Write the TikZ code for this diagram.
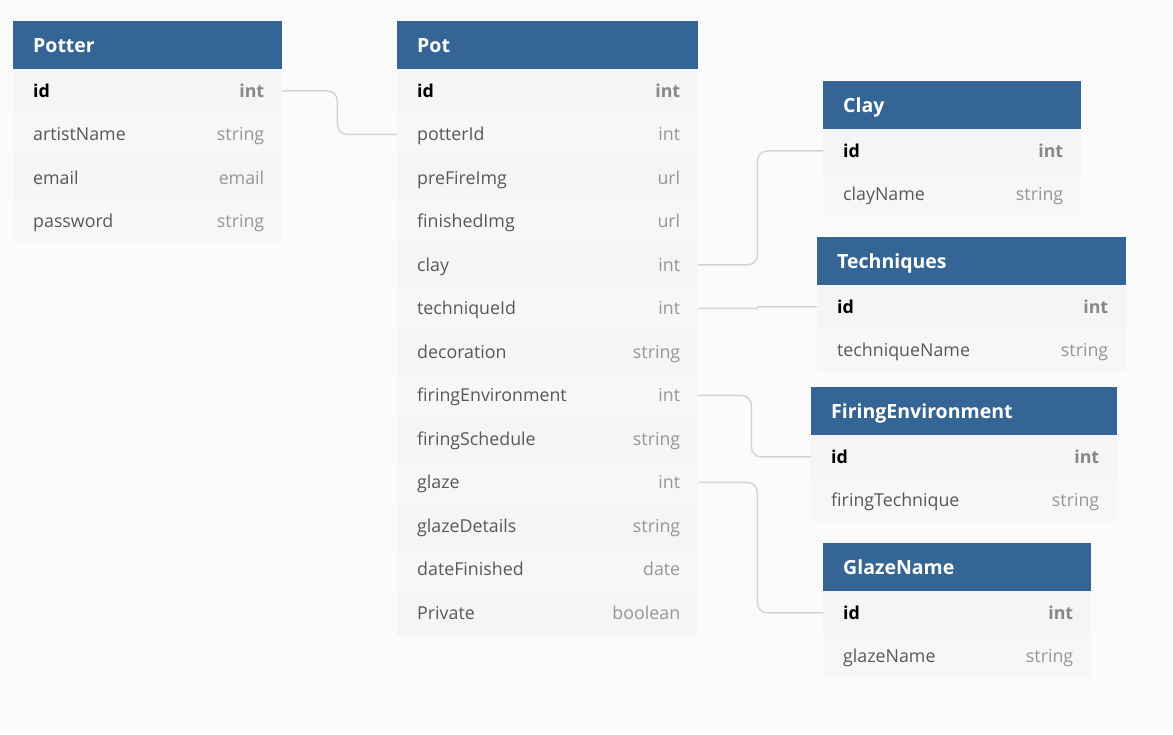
\documentclass[tikz,border=0pt]{standalone}
\usepackage{fontspec}
\setmainfont{Open Sans}
\definecolor{bg}{RGB}{251,251,251}
\definecolor{hdr}{RGB}{53,101,148}
\definecolor{rowa}{RGB}{245,245,245}
\definecolor{rowb}{RGB}{247,247,247}
\definecolor{fname}{RGB}{88,88,88}
\definecolor{ftype}{RGB}{150,150,150}
\definecolor{idtype}{RGB}{135,135,135}
\definecolor{conn}{RGB}{212,212,212}
\tikzset{
  hdrbox/.style={fill=hdr, draw=none, inner sep=0, anchor=north west, minimum height=48pt},
  rowbox/.style={draw=none, inner sep=0, anchor=north west, minimum height=43.5pt},
  titletext/.style={anchor=base west, inner sep=0, text=white, font=\fontsize{19.5}{22}\selectfont\bfseries},
  fieldname/.style={anchor=base west, inner sep=0, text=fname, font=\fontsize{17.8}{20}\selectfont},
  fieldtype/.style={anchor=base east, inner sep=0, text=ftype, font=\fontsize{17.8}{20}\selectfont},
  idname/.style={anchor=base west, inner sep=0, text=black, font=\fontsize{17.8}{20}\selectfont\bfseries},
  idtypetext/.style={anchor=base east, inner sep=0, text=idtype, font=\fontsize{17.8}{20}\selectfont\bfseries},
  connector/.style={draw=conn, line width=1.5pt, rounded corners=10pt},
}
% #1 name, #2 x, #3 y, #4 width, #5 title, #6 rows after id (name/type)
\newcommand\ertable[6]{%
  \node[hdrbox, minimum width=#4pt] (#1h) at (#2,#3) {};
  \node[titletext] (#1t) at ([xshift=20pt, yshift=-6.8pt]#1h.west) {#5};
  \node[rowbox, fill=rowa, minimum width=#4pt] (#11) at (#2,{#3+48}) {};
  \node[idname] (#11n) at ([xshift=20pt, yshift=-6.3pt]#11.west) {id};
  \node[idtypetext] (#11t) at ([xshift=-18pt, yshift=-6.3pt]#11.east) {int};
  \foreach \fn/\ft [count=\i from 2] in {#6} {
    \pgfmathtruncatemacro\rowpar{mod(\i,2)}
    \ifnum\rowpar=0 \def\rc{rowb}\else\def\rc{rowa}\fi
    \node[rowbox, fill=\rc, minimum width=#4pt] (#1\i) at (#2,{#3+48+(\i-1)*43.5}) {};
    \node[fieldname] (#1\i n) at ([xshift=20pt, yshift=-6.3pt]#1\i.west) {\fn};
    \node[fieldtype] (#1\i t) at ([xshift=-18pt, yshift=-6.3pt]#1\i.east) {\ft};
  }%
}
\begin{document}
\begin{tikzpicture}[x=1pt, y=-1pt]
  \fill[bg] (0,0) rectangle (1173,734);
  \useasboundingbox (0,0) rectangle (1173,734);
  \ertable{potter}{13}{21}{269}{Potter}{artistName/string, email/email, password/string}
  \ertable{pot}{397}{21}{301}{Pot}{potterId/int, preFireImg/url, finishedImg/url, clay/int, techniqueId/int, decoration/string, firingEnvironment/int, firingSchedule/string, glaze/int, glazeDetails/string, dateFinished/date, Private/boolean}
  \ertable{clay}{823}{81}{258}{Clay}{clayName/string}
  \ertable{tech}{817}{237}{309}{Techniques}{techniqueName/string}
  \ertable{fire}{811}{387}{306}{FiringEnvironment}{firingTechnique/string}
  \ertable{glaze}{823}{543}{268}{GlazeName}{glazeName/string}
  \draw[connector] (potter1.east) -- ++(55,0) |- (pot2.west);
  \draw[connector] (pot5.east) -- ++(59,0) |- (clay1.west);
  \draw[connector, rounded corners=1pt] (pot6.east) -- ++(59,0) |- (tech1.west);
  \draw[connector] (pot8.east) -- ++(53,0) |- (fire1.west);
  \draw[connector] (pot10.east) -- ++(59,0) |- (glaze1.west);
\end{tikzpicture}
\end{document}
